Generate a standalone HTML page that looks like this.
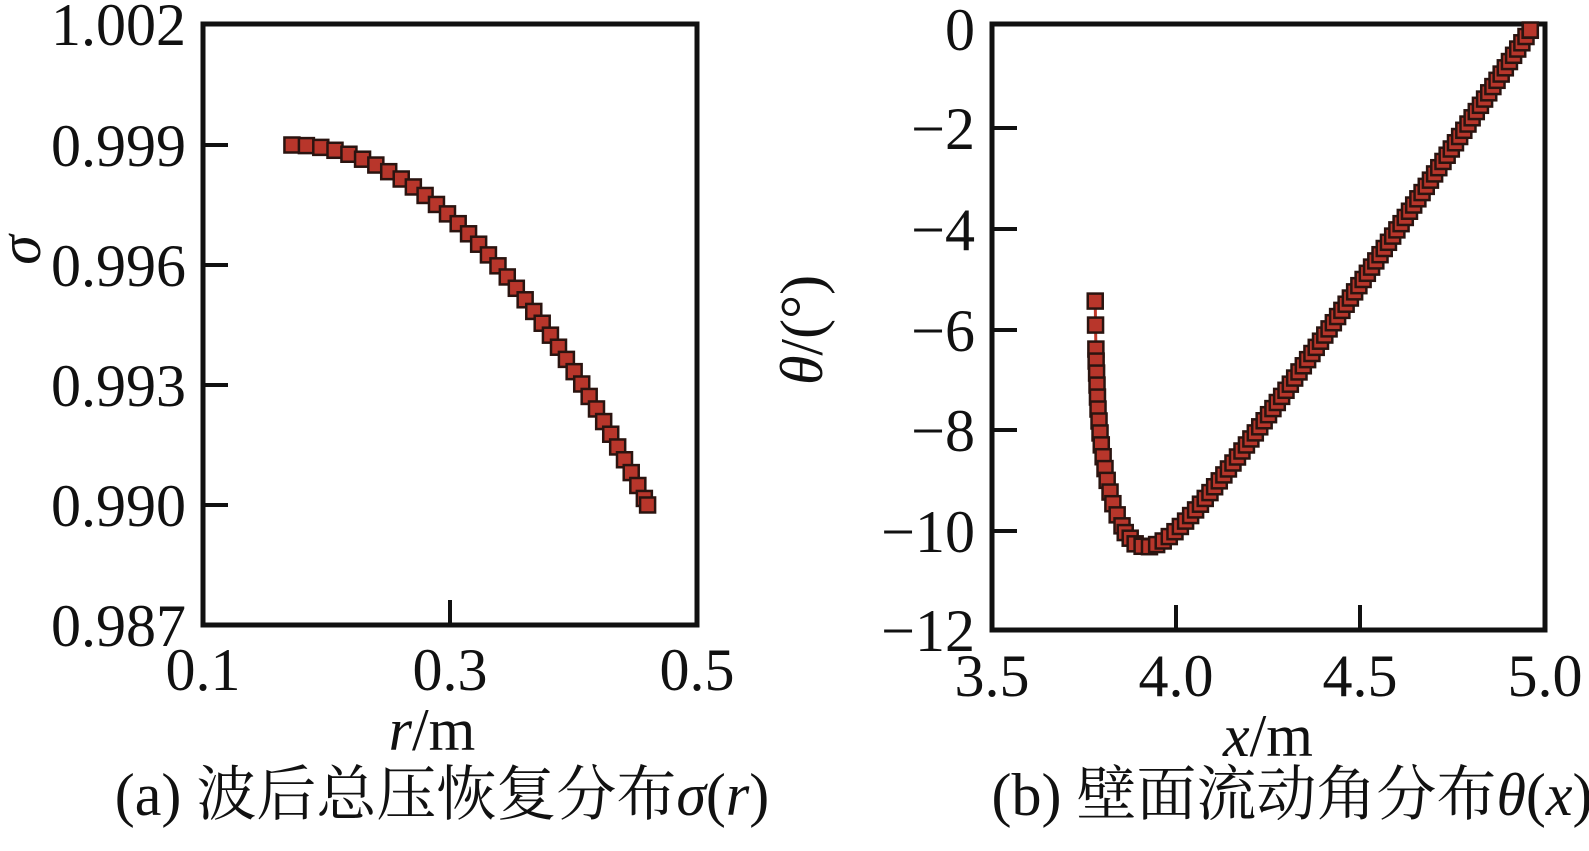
<!DOCTYPE html>
<html><head><meta charset="utf-8"><style>
html,body{margin:0;padding:0;background:#fff;}
svg{display:block;}
text{font-family:"Liberation Serif","Noto Serif CJK SC",serif;fill:#111;}
</style></head><body>
<svg id="s" width="1589" height="851" viewBox="0 0 1589 851" xmlns="http://www.w3.org/2000/svg">
<g font-size="60">
<!-- left plot -->
<rect x="203" y="24" width="494" height="601" fill="none" stroke="#111" stroke-width="5"/>
<g stroke="#111" stroke-width="4">
<line x1="203" y1="145" x2="228" y2="145"/><line x1="203" y1="265" x2="228" y2="265"/>
<line x1="203" y1="385" x2="228" y2="385"/><line x1="203" y1="505" x2="228" y2="505"/>
<line x1="450" y1="625" x2="450" y2="600"/>
</g>
<g text-anchor="end">
<text x="186" y="45">1.002</text><text x="186" y="166">0.999</text><text x="186" y="286">0.996</text>
<text x="186" y="406">0.993</text><text x="186" y="526">0.990</text><text x="186" y="646">0.987</text>
</g>
<g text-anchor="middle">
<text x="203" y="690">0.1</text><text x="450" y="690">0.3</text><text x="697" y="690">0.5</text>
<text x="432" y="750"><tspan font-style="italic">r</tspan>/m</text>
<text x="442" y="815">(a) 波后总压恢复分布<tspan font-style="italic">σ</tspan>(<tspan font-style="italic">r</tspan>)</text>
</g>
<text transform="translate(40,250) rotate(-90)" text-anchor="middle" font-style="italic">σ</text>
<!-- right plot -->
<rect x="992" y="24" width="553" height="606" fill="none" stroke="#111" stroke-width="5"/>
<g stroke="#111" stroke-width="4">
<line x1="992" y1="128" x2="1017" y2="128"/><line x1="992" y1="229" x2="1017" y2="229"/>
<line x1="992" y1="330" x2="1017" y2="330"/><line x1="992" y1="430" x2="1017" y2="430"/>
<line x1="992" y1="531" x2="1017" y2="531"/>
<line x1="1176" y1="630" x2="1176" y2="605"/><line x1="1360" y1="630" x2="1360" y2="605"/>
</g>
<g text-anchor="end">
<text x="975" y="50">0</text><text x="975" y="149">−2</text><text x="975" y="250">−4</text>
<text x="975" y="351">−6</text><text x="975" y="451">−8</text><text x="975" y="552">−10</text><text x="975" y="651">−12</text>
</g>
<g text-anchor="middle">
<text x="992" y="696">3.5</text><text x="1176" y="696">4.0</text><text x="1360" y="696">4.5</text><text x="1545" y="696">5.0</text>
<text x="1268" y="756"><tspan font-style="italic">x</tspan>/m</text>
<text x="1292" y="815">(b) 壁面流动角分布<tspan font-style="italic">θ</tspan>(<tspan font-style="italic">x</tspan>)</text>
</g>
<text transform="translate(822,330) rotate(-90)" text-anchor="middle"><tspan font-style="italic">θ</tspan>/(°)</text>
</g>
<g id="m1"></g><g id="m2"></g>
</svg>
<script>
function place(pts, spacing, g, sz){
  var out=[pts[0]], acc=0, sp=spacing(pts[0]);
  for(var i=1;i<pts.length;i++){
    var a=pts[i-1], b=pts[i], dx=b[0]-a[0], dy=b[1]-a[1], L=Math.hypot(dx,dy), t=0;
    while(L-t >= sp-acc){ t+=sp-acc; acc=0; var p=[a[0]+dx*t/L,a[1]+dy*t/L]; out.push(p); sp=spacing(p);}
    acc+=L-t;
  }
  out.push(pts[pts.length-1]);
  var h="";
  var poly=pts.map(p=>p.join(",")).join(" ");
  h+='<polyline points="'+poly+'" fill="none" stroke="#c0392b" stroke-width="3"/>';
  out.forEach(p=>{h+='<rect x="'+(p[0]-sz/2)+'" y="'+(p[1]-sz/2)+'" width="'+sz+'" height="'+sz+'" fill="#b8362b" stroke="#2a1410" stroke-width="2.5"/>';});
  g.innerHTML=h;
}
// left
var L=[];
for(var i=0;i<=200;i++){var r=0.172+(0.46-0.172)*i/200; var s=0.999-0.1085*Math.pow(r-0.172,2.0);
 L.push([203+(r-0.1)*1235, 145+(0.999-s)/0.003*120]);}
place(L,function(){return 14.5;},document.getElementById('m1'),15);
// right
var ctrl=[[3.78,-5.4],[3.782,-6.5],[3.787,-7.5],[3.795,-8.2],[3.81,-8.9],[3.83,-9.5],[3.86,-10.0],[3.89,-10.25]];
var w=0.08, D=1.045, den=Math.sqrt(D*D+w*w)-w;
for(var i=0;i<=200;i++){var d=D*i/200; var th=-10.3+10.3*Math.pow((Math.sqrt(d*d+w*w)-w)/den,1.05); ctrl.push([3.915+d,th]);}
var R=ctrl.map(p=>[992+(p[0]-3.5)*368.7, 30+(-p[1])*50.2]);
place(R,function(p){return p[1]<330&&p[0]<1120?24:(p[0]<1120?12:7.5);},document.getElementById('m2'),15);
</script>
</body></html>
